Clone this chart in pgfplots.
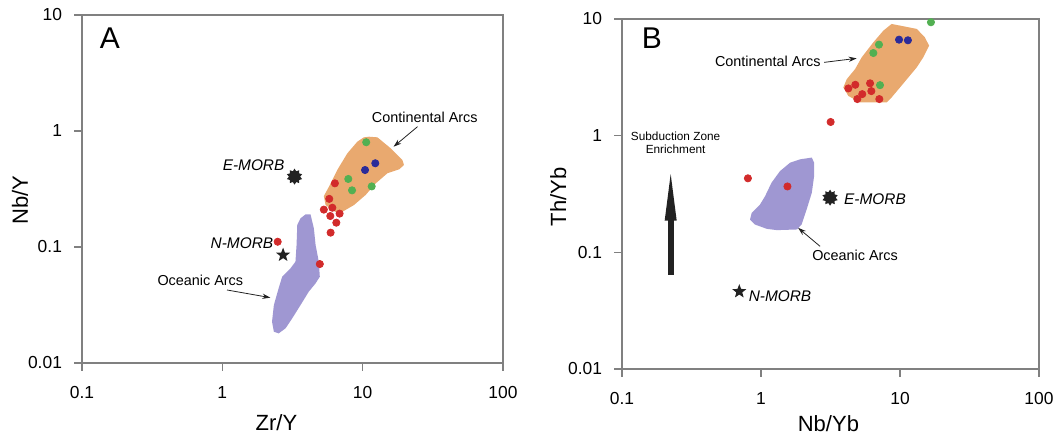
\documentclass[border=0pt]{standalone}
\usepackage{fontspec}
\setmainfont{Liberation Sans}
\usepackage{pgfplots}
\pgfplotsset{compat=1.18}
\usetikzlibrary{arrows.meta}

\definecolor{contarc}{HTML}{E9A96F}
\definecolor{oceanarc}{HTML}{9F97D2}
\definecolor{ptred}{HTML}{D22B2B}
\definecolor{ptgreen}{HTML}{52B052}
\definecolor{ptblue}{HTML}{2B2B99}
\definecolor{framegray}{HTML}{808080}
\definecolor{inkdark}{HTML}{222222}

% filled five-pointed star (N-MORB)
\pgfdeclareplotmark{nstar}{%
  \pgfpathmoveto{\pgfpointpolar{90}{\pgfplotmarksize}}%
  \pgfpathlineto{\pgfpointpolar{126}{0.42\pgfplotmarksize}}%
  \pgfpathlineto{\pgfpointpolar{162}{\pgfplotmarksize}}%
  \pgfpathlineto{\pgfpointpolar{198}{0.42\pgfplotmarksize}}%
  \pgfpathlineto{\pgfpointpolar{234}{\pgfplotmarksize}}%
  \pgfpathlineto{\pgfpointpolar{270}{0.42\pgfplotmarksize}}%
  \pgfpathlineto{\pgfpointpolar{306}{\pgfplotmarksize}}%
  \pgfpathlineto{\pgfpointpolar{342}{0.42\pgfplotmarksize}}%
  \pgfpathlineto{\pgfpointpolar{18}{\pgfplotmarksize}}%
  \pgfpathlineto{\pgfpointpolar{54}{0.42\pgfplotmarksize}}%
  \pgfpathclose\pgfusepathqfill}
% ten-point burst (E-MORB)
\pgfdeclareplotmark{burst}{%
  \pgfpathmoveto{\pgfpointpolar{90}{\pgfplotmarksize}}%
  \pgfpathlineto{\pgfpointpolar{108}{0.7\pgfplotmarksize}}%
  \pgfpathlineto{\pgfpointpolar{126}{\pgfplotmarksize}}%
  \pgfpathlineto{\pgfpointpolar{144}{0.7\pgfplotmarksize}}%
  \pgfpathlineto{\pgfpointpolar{162}{\pgfplotmarksize}}%
  \pgfpathlineto{\pgfpointpolar{180}{0.7\pgfplotmarksize}}%
  \pgfpathlineto{\pgfpointpolar{198}{\pgfplotmarksize}}%
  \pgfpathlineto{\pgfpointpolar{216}{0.7\pgfplotmarksize}}%
  \pgfpathlineto{\pgfpointpolar{234}{\pgfplotmarksize}}%
  \pgfpathlineto{\pgfpointpolar{252}{0.7\pgfplotmarksize}}%
  \pgfpathlineto{\pgfpointpolar{270}{\pgfplotmarksize}}%
  \pgfpathlineto{\pgfpointpolar{288}{0.7\pgfplotmarksize}}%
  \pgfpathlineto{\pgfpointpolar{306}{\pgfplotmarksize}}%
  \pgfpathlineto{\pgfpointpolar{324}{0.7\pgfplotmarksize}}%
  \pgfpathlineto{\pgfpointpolar{342}{\pgfplotmarksize}}%
  \pgfpathlineto{\pgfpointpolar{0}{0.7\pgfplotmarksize}}%
  \pgfpathlineto{\pgfpointpolar{18}{\pgfplotmarksize}}%
  \pgfpathlineto{\pgfpointpolar{36}{0.7\pgfplotmarksize}}%
  \pgfpathlineto{\pgfpointpolar{54}{\pgfplotmarksize}}%
  \pgfpathlineto{\pgfpointpolar{72}{0.7\pgfplotmarksize}}%
  \pgfpathclose\pgfusepathqfill}

\tikzset{
  ann/.style={font=\fontsize{7.2}{8.5}\selectfont, inner sep=0pt},
  morb/.style={font=\fontsize{7.7}{9}\selectfont\itshape, inner sep=0pt},
  pointer/.style={draw=inkdark, line width=0.4pt,
    -{Stealth[length=4pt,width=2.6pt]}},
}

\begin{document}
\begin{tikzpicture}

% ---------- A: Nb/Y vs Zr/Y ----------
\begin{axis}[at={(41pt,35pt)}, anchor=south west,
  scale only axis, width=210.5pt, height=174pt,
  xmode=log, ymode=log, clip=false,
  xmin=0.1, xmax=100, ymin=0.01, ymax=10,
  xtick={0.1,1,10,100}, xticklabels={0.1,1,10,100},
  ytick={0.01,0.1,1,10}, yticklabels={0.01,0.1,1,10},
  tick pos=left, tick align=outside, major tick length=4pt,
  minor tick length=0pt,
  axis line style={draw=framegray, line width=0.75pt},
  major tick style={draw=framegray, line width=0.75pt},
  tick label style={font=\fontsize{8.7}{10}\selectfont},
  xticklabel style={yshift=-4pt},
  yticklabel style={xshift=-2.5pt},
  label style={font=\fontsize{11}{13}\selectfont},
  xlabel={Zr/Y}, ylabel={Nb/Y},
  xlabel style={at={(axis description cs:0.462,-0.172)}, anchor=center},
  ylabel style={at={(axis description cs:-0.147,0.468)}, anchor=center},
]
\addplot[fill=contarc, draw=none] coordinates {
  (11.09,0.893) (12.74,0.882) (15.85,0.709) (19.2,0.562) (19.7,0.509)
  (18.2,0.467) (15.0,0.432) (12.4,0.354) (10.5,0.281) (8.67,0.230)
  (7.16,0.201) (6.41,0.200) (5.44,0.230) (5.29,0.275) (5.75,0.331)
  (6.59,0.461) (7.78,0.642) (9.16,0.809) (10.2,0.882) (11.09,0.893)};
\addplot[fill=oceanarc, draw=none] coordinates {
  (4.25,0.191) (4.49,0.145) (4.62,0.104) (4.87,0.0747) (4.95,0.0555)
  (4.62,0.0486) (4.13,0.0412) (3.61,0.0316) (3.15,0.0243) (2.82,0.0199)
  (2.52,0.0180) (2.33,0.0186) (2.26,0.0227) (2.33,0.0316) (2.52,0.0441)
  (2.67,0.0555) (3.06,0.0655) (3.32,0.0747) (3.38,0.104) (3.42,0.155)
  (3.61,0.177) (3.92,0.191) (4.25,0.191)};
\addplot[only marks, mark=*, mark size=1.8pt, ptred] coordinates {
  (6.34,0.354) (5.78,0.26) (5.29,0.21) (6.08,0.218) (5.88,0.185)
  (6.85,0.194) (6.49,0.162) (5.91,0.133) (2.48,0.111) (4.95,0.0713)};
\addplot[only marks, mark=*, mark size=1.8pt, ptgreen] coordinates {
  (10.6,0.80) (7.9,0.386) (8.4,0.308) (11.6,0.333)};
\addplot[only marks, mark=*, mark size=1.8pt, ptblue] coordinates {
  (10.4,0.461) (12.3,0.527)};
\addplot[only marks, mark=burst, mark size=4pt, inkdark] coordinates {(3.27,0.404)};
\addplot[only marks, mark=nstar, mark size=3.7pt, inkdark] coordinates {(2.71,0.0853)};

\node[font=\fontsize{15}{17}\selectfont, inner sep=0pt] at (axis cs:0.158,6.34) {A};
\node[ann] at (axis cs:27.7,1.31) {Continental Arcs};
\draw[pointer] (axis cs:24.6,1.09) -- (axis cs:16.6,0.732);
\node[morb] at (axis cs:1.67,0.509) {E-MORB};
\node[morb] at (axis cs:1.38,0.1076) {N-MORB};
\node[ann] at (axis cs:0.697,0.052) {Oceanic Arcs};
\draw[pointer] (axis cs:1.08,0.0426) -- (axis cs:2.20,0.0366);
\end{axis}

% ---------- B: Th/Yb vs Nb/Yb ----------
\begin{axis}[at={(311pt,32pt)}, anchor=south west,
  scale only axis, width=208.5pt, height=175pt,
  xmode=log, ymode=log, clip=false,
  xmin=0.1, xmax=100, ymin=0.01, ymax=10,
  xtick={0.1,1,10,100}, xticklabels={0.1,1,10,100},
  ytick={0.01,0.1,1,10}, yticklabels={0.01,0.1,1,10},
  tick pos=left, tick align=outside, major tick length=4pt,
  minor tick length=0pt,
  axis line style={draw=framegray, line width=0.75pt},
  major tick style={draw=framegray, line width=0.75pt},
  tick label style={font=\fontsize{8.7}{10}\selectfont},
  xticklabel style={yshift=-4pt},
  yticklabel style={xshift=-2.5pt},
  label style={font=\fontsize{11}{13}\selectfont},
  xlabel={Nb/Yb}, ylabel={Th/Yb},
  xlabel style={at={(axis description cs:0.495,-0.155)}, anchor=center},
  ylabel style={at={(axis description cs:-0.153,0.492)}, anchor=center},
]
\addplot[fill=contarc, draw=none] coordinates {
  (8.71,9.07) (13.2,8.22) (15.1,6.97) (16.2,5.90) (14.7,4.69)
  (13.2,3.85) (11.5,3.16) (10.0,2.59) (8.71,2.13) (8.02,1.93)
  (5.16,1.93) (4.25,2.19) (3.91,2.59) (4.14,3.05) (4.75,3.72)
  (5.30,4.69) (6.43,6.31) (7.59,7.95) (8.71,9.07)};
\addplot[fill=oceanarc, draw=none] coordinates {
  (2.32,0.649) (2.41,0.587) (2.41,0.450) (2.32,0.324) (2.13,0.233)
  (1.96,0.173) (1.81,0.157) (1.30,0.155) (1.10,0.159) (0.906,0.173)
  (0.834,0.191) (0.857,0.218) (0.984,0.257) (1.07,0.303) (1.19,0.395)
  (1.37,0.497) (1.62,0.587) (1.91,0.627) (2.32,0.649)};
\addplot[only marks, mark=*, mark size=1.8pt, ptred] coordinates {
  (4.25,2.54) (4.77,2.73) (6.09,2.81) (5.35,2.27) (6.22,2.41)
  (4.93,2.06) (7.10,2.06) (3.17,1.31) (0.805,0.431) (1.55,0.367)};
\addplot[only marks, mark=*, mark size=1.8pt, ptgreen] coordinates {
  (16.7,9.38) (7.06,6.03) (6.43,5.11) (7.18,2.71)};
\addplot[only marks, mark=*, mark size=1.8pt, ptblue] coordinates {
  (9.84,6.65) (11.4,6.57)};
\addplot[only marks, mark=burst, mark size=4pt, inkdark] coordinates {(3.14,0.294)};
\addplot[only marks, mark=nstar, mark size=3.7pt, inkdark] coordinates {(0.698,0.0462)};

\node[font=\fontsize{15}{17}\selectfont, inner sep=0pt] at (axis cs:0.164,6.84) {B};
\node[ann] at (axis cs:1.12,4.36) {Continental Arcs};
\draw[pointer] (axis cs:2.85,4.25) -- (axis cs:4.88,4.60);
\node[morb] at (axis cs:6.61,0.284) {E-MORB};
\node[morb] at (axis cs:1.37,0.0424) {N-MORB};
\node[ann] at (axis cs:4.75,0.0937) {Oceanic Arcs};
\draw[pointer] (axis cs:2.66,0.1126) -- (axis cs:1.85,0.162);
\node[font=\fontsize{5.9}{6.7}\selectfont, inner sep=0pt, align=center]
  at (axis cs:0.243,0.873) {Subduction Zone\\Enrichment};
\draw[inkdark, line width=3pt, -{Triangle[length=29pt,width=5pt]}]
  (axis cs:0.224,0.064) -- (axis cs:0.224,0.588);
\end{axis}

\pgfresetboundingbox
\path (0,0) rectangle (529.5pt,216.5pt);
\end{tikzpicture}
\end{document}
